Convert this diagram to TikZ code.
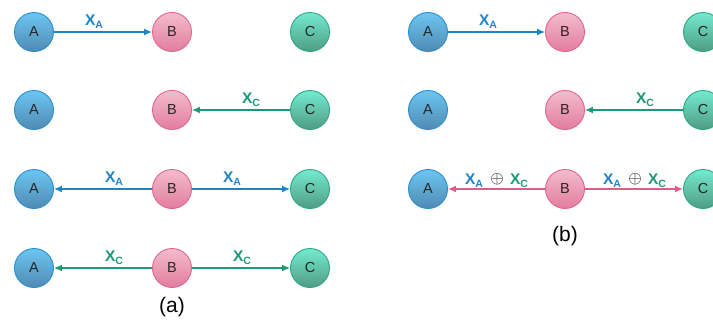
\documentclass[tikz,border=0pt]{standalone}
\usepackage{fontspec}
\setmainfont{Liberation Sans}
\usetikzlibrary{arrows.meta}
\definecolor{bstroke}{HTML}{2A8ED0}
\definecolor{btop}{HTML}{6CC6F2}
\definecolor{bbot}{HTML}{4F8AB2}
\definecolor{pstroke}{HTML}{E0648E}
\definecolor{ptop}{HTML}{F4BCCC}
\definecolor{pbot}{HTML}{E27C9E}
\definecolor{gstroke}{HTML}{2AA985}
\definecolor{gtop}{HTML}{74EAD0}
\definecolor{gbot}{HTML}{4F9C82}
\definecolor{lblue}{HTML}{1F84C4}
\definecolor{lgreen}{HTML}{1E9977}
\definecolor{lpink}{HTML}{E05C88}
\tikzset{
  nd/.style={circle, minimum size=39pt, inner sep=0pt, line width=0.9pt,
    font=\fontsize{14.5}{14.5}\selectfont, text=black!85},
  na/.style={nd, draw=bstroke, top color=btop, bottom color=bbot},
  nb/.style={nd, draw=pstroke, top color=ptop, bottom color=pbot},
  nc/.style={nd, draw=gstroke, top color=gtop, bottom color=gbot},
  arr/.style={line width=1.4pt, -{Latex[length=8pt,width=7pt]}},
  lab/.style={inner sep=0pt, font=\fontsize{15.5}{15.5}\selectfont\bfseries},
  captext/.style={inner sep=0pt, font=\fontsize{21}{21}\selectfont}
}
\newcommand{\xs}[1]{X\raisebox{-0.2em}{\fontsize{10.5}{10.5}\selectfont #1}}
\newcommand{\opl}{\fontsize{19}{19}\selectfont$\oplus$}
\begin{document}
\begin{tikzpicture}[x=1pt,y=-1pt]
\useasboundingbox (0,0) rectangle (713,322);
\clip (0,0) rectangle (713,322);
% ---------- (a) ----------
\node[na] (a1A) at (34,32) {A};
\node[nb] (a1B) at (172,32) {B};
\node[nc] (a1C) at (310,32) {C};
\node[na] (a2A) at (34,110) {A};
\node[nb] (a2B) at (172,110) {B};
\node[nc] (a2C) at (310,110) {C};
\node[na] (a3A) at (34,189) {A};
\node[nb] (a3B) at (172,189) {B};
\node[nc] (a3C) at (310,189) {C};
\node[na] (a4A) at (34,268) {A};
\node[nb] (a4B) at (172,268) {B};
\node[nc] (a4C) at (310,268) {C};
\draw[arr, lblue] (a1A) -- (a1B);
\draw[arr, lgreen] (a2C) -- (a2B);
\draw[arr, lblue] (a3B) -- (a3A);
\draw[arr, lblue] (a3B) -- (a3C);
\draw[arr, lgreen] (a4B) -- (a4A);
\draw[arr, lgreen] (a4B) -- (a4C);
\node[lab, text=lblue] (l1) at (94,22) {\xs{A}};
\node[lab, text=lgreen] (l2) at (251,100) {\xs{C}};
\node[lab, text=lblue] (l3) at (114,179) {\xs{A}};
\node[lab, text=lblue] (l4) at (232,179) {\xs{A}};
\node[lab, text=lgreen] (l5) at (114,258) {\xs{C}};
\node[lab, text=lgreen] (l6) at (242,258) {\xs{C}};
\node[captext] (capa) at (172,307) {(a)};
% ---------- (b) ----------
\node[na] (b1A) at (428,32) {A};
\node[nb] (b1B) at (565,32) {B};
\node[nc] (b1C) at (703,32) {C};
\node[na] (b2A) at (428,110) {A};
\node[nb] (b2B) at (565,110) {B};
\node[nc] (b2C) at (703,110) {C};
\node[na] (b3A) at (428,189) {A};
\node[nb] (b3B) at (565,189) {B};
\node[nc] (b3C) at (703,189) {C};
\draw[arr, lblue] (b1A) -- (b1B);
\draw[arr, lgreen] (b2C) -- (b2B);
\draw[arr, lpink] (b3B) -- (b3A);
\draw[arr, lpink] (b3B) -- (b3C);
\node[lab, text=lblue] (m1) at (488,22) {\xs{A}};
\node[lab, text=lgreen] (m2) at (645,100) {\xs{C}};
\node[lab, text=lblue] (m3) at (474,181) {\xs{A}};
\node[inner sep=0pt] (m4) at (497,179) {\opl};
\node[lab, text=lgreen] (m5) at (519,181) {\xs{C}};
\node[lab, text=lblue] (m6) at (612,181) {\xs{A}};
\node[inner sep=0pt] (m7) at (635,179) {\opl};
\node[lab, text=lgreen] (m8) at (657,181) {\xs{C}};
\node[captext] (capb) at (565,236) {(b)};
\end{tikzpicture}
\end{document}
